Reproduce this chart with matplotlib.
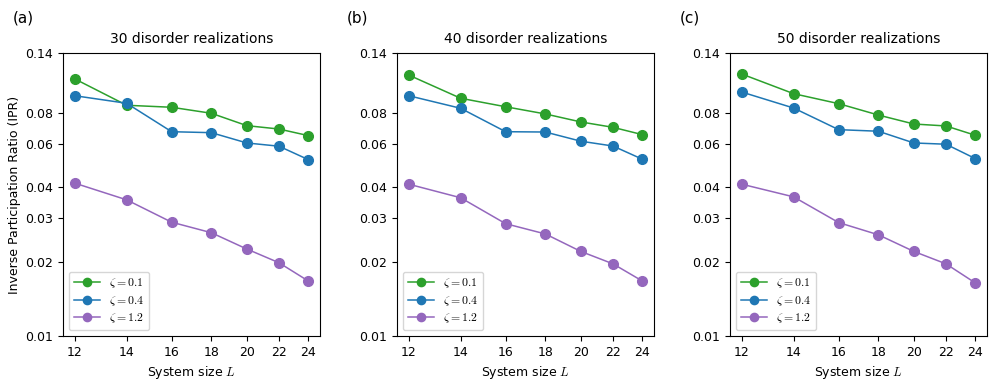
import numpy as np
import matplotlib
matplotlib.use("Agg")
import matplotlib.pyplot as plt
from matplotlib.ticker import FixedLocator, FixedFormatter, NullLocator

plt.rcParams['font.family'] = ['DejaVu Sans']
plt.rcParams['mathtext.fontset'] = 'cm'

# system sizes
L = np.array([12, 14, 16, 18, 20, 22, 24])

# IPR for 30 / 40 / 50 disorder realizations
ipr_30_z01 = [0.110, 0.0860, 0.0844, 0.0798, 0.0711, 0.0689, 0.0648]
ipr_30_z04 = [0.0940, 0.0876, 0.0672, 0.0666, 0.0605, 0.0587, 0.0518]
ipr_30_z12 = [0.0416, 0.0356, 0.0289, 0.0262, 0.0225, 0.0198, 0.0167]

ipr_40_z01 = [0.1140, 0.0918, 0.0848, 0.0793, 0.0736, 0.0700, 0.0654]
ipr_40_z04 = [0.0940, 0.0836, 0.0672, 0.0670, 0.0615, 0.0588, 0.0520]
ipr_40_z12 = [0.0412, 0.0363, 0.0285, 0.0259, 0.0220, 0.0196, 0.0167]

ipr_50_z01 = [0.1151, 0.0958, 0.0873, 0.0785, 0.0722, 0.0709, 0.0650]
ipr_50_z04 = [0.0973, 0.0838, 0.0685, 0.0675, 0.0605, 0.0598, 0.0523]
ipr_50_z12 = [0.0412, 0.0366, 0.0288, 0.0257, 0.0220, 0.0196, 0.0164]

panels = [
    ("(a)", "30 disorder realizations", ipr_30_z01, ipr_30_z04, ipr_30_z12),
    ("(b)", "40 disorder realizations", ipr_40_z01, ipr_40_z04, ipr_40_z12),
    ("(c)", "50 disorder realizations", ipr_50_z01, ipr_50_z04, ipr_50_z12),
]

zeta_labels = [r"$\zeta=0.1$", r"$\zeta=0.4$", r"$\zeta=1.2$"]
colors = ["#2ca02c", "#1f77b4", "#9467bd"]

yticks = [0.01, 0.02, 0.03, 0.04, 0.06, 0.08, 0.14]
ytick_labels = ["0.01", "0.02", "0.03", "0.04", "0.06", "0.08", "0.14"]

fig = plt.figure(figsize=(9.96, 3.9), dpi=100)
lefts = [63, 397, 730]

for i, (tag, title, z01, z04, z12) in enumerate(panels):
    ax = fig.add_axes([lefts[i] / 996, 54 / 390, 257 / 996, 283 / 390])
    for vals, c, lab in zip([z01, z04, z12], colors, zeta_labels):
        ax.plot(L, vals, "-o", color=c, lw=1.1, ms=7, label=lab)
    ax.set_xscale("log")
    ax.set_yscale("log")
    ax.set_ylim(0.01, 0.14)
    ax.xaxis.set_major_locator(FixedLocator(L))
    ax.xaxis.set_major_formatter(FixedFormatter([str(v) for v in L]))
    ax.xaxis.set_minor_locator(NullLocator())
    ax.yaxis.set_major_locator(FixedLocator(yticks))
    ax.yaxis.set_major_formatter(FixedFormatter(ytick_labels))
    ax.yaxis.set_minor_locator(NullLocator())
    ax.tick_params(labelsize=9)
    ax.set_xlabel(r"System size $L$", fontsize=9)
    ax.set_title(title, fontsize=10, pad=7)
    ax.legend(loc="lower left", fontsize=8.5, handlelength=2.2,
              markerscale=0.85, labelspacing=0.3)
    fig.text((lefts[i] - 50) / 996, 1 - 18 / 390, tag, fontsize=11, va="center")
    if i == 0:
        ax.set_ylabel("Inverse Participation Ratio (IPR)", fontsize=9, labelpad=3)

fig.savefig("out.png", dpi=100)
